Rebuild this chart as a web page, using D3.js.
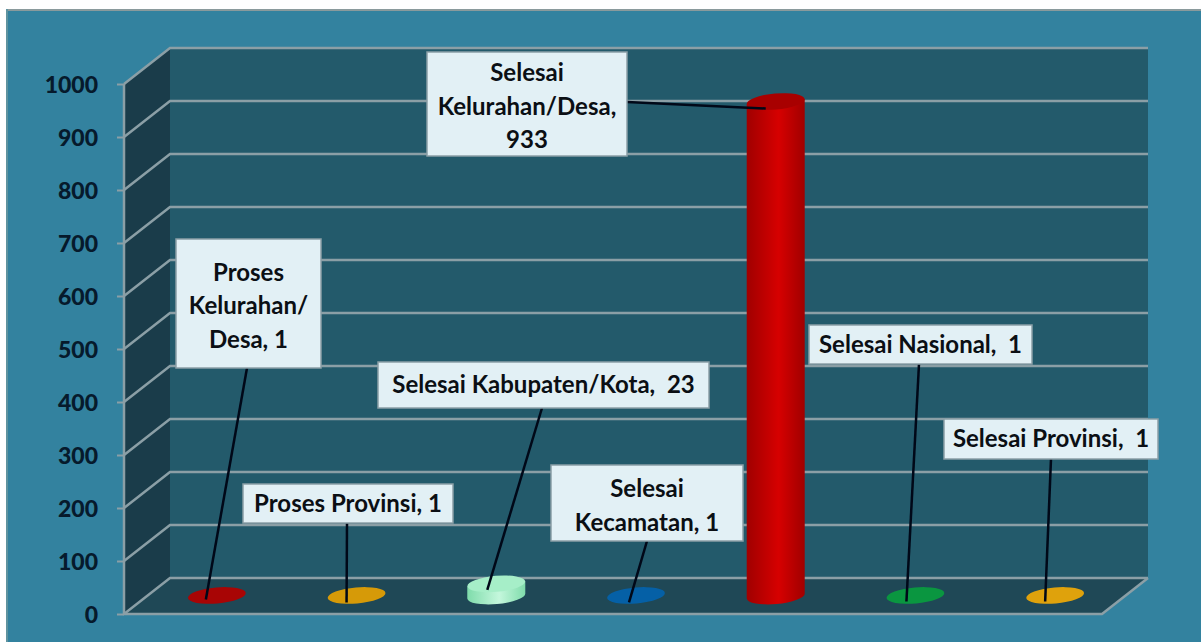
<!DOCTYPE html>
<html><head><meta charset="utf-8">
<script src="https://cdn.jsdelivr.net/npm/d3@7"></script>
<style>html,body{margin:0;padding:0;background:#fff}svg{display:block}text{font-family:Lato,"Open Sans",sans-serif;font-weight:700}</style>
</head><body><svg id="c" width="1201" height="642"></svg>
<script>
const categories=["Proses Kelurahan/Desa","Proses Provinsi","Selesai Kabupaten/Kota","Selesai Kecamatan","Selesai Kelurahan/Desa","Selesai Nasional","Selesai Provinsi"];
const values=[1,1,23,1,933,1,1];
const yTicks=[0,100,200,300,400,500,600,700,800,900,1000];
const labelLines=[["Proses","Kelurahan/","Desa, 1"],["Proses Provinsi, 1"],["Selesai Kabupaten/Kota,  23"],["Selesai","Kecamatan, 1"],["Selesai","Kelurahan/Desa,","933"],["Selesai Nasional,  1"],["Selesai Provinsi,  1"]];
const colors=[["#8f0000","#b80808"],["#b98500","#dd9e08"],["#7fdcab","#c4f7dc"],["#004f8f","#0868b0"],["#a00000","#d60000"],["#007f33","#0a9c40"],["#c48c00","#e6a50c"]];
const topColors=["#a80505","#d69a08","#a6eec8","#0560a6","#a80000","#0a9640","#dfa20c"];
// label box layout: left, top, right, bottom, leader start x, y, leader end offset from slice centre
const boxes=[[176,239,321,368,247,368,-11,4],[243,484,453,523,347,523,-10,7],[378,362,709,408,542,408,-9,6],[551,465,743,541,647,541,-7,7],[427,52,627,156,627,102,-10,7],[809,325,1032,364,919,364,-9,6],[944,419,1158,459,1051,459,-10,6]];

const W={l:124,r:1102,t:84,b:614,dx:46,dy:-36};
const svg=d3.select("#c");
const x=d3.scaleBand().domain(categories).range([W.l,W.r]);
const y=d3.scaleLinear().domain([0,1000]).range([W.b,W.t]);
const cx=c=>x(c)+x.bandwidth()/2+W.dx/2;
const cy=v=>y(v)+W.dy/2;
const defs=svg.append("defs");

svg.append("rect").attr("x",6).attr("y",9).attr("width",1195).attr("height",633).attr("fill","#33829f");
svg.append("rect").attr("x",6).attr("y",9).attr("width",1195).attr("height",2).attr("fill","#8a9a9c");
svg.append("rect").attr("x",6).attr("y",9).attr("width",2).attr("height",633).attr("fill","#5f939f");

const poly=(p,f)=>svg.append("polygon").attr("points",p.map(d=>d.join(",")).join(" ")).attr("fill",f);
poly([[W.l+W.dx,y(1000)+W.dy],[W.r+W.dx,y(1000)+W.dy],[W.r+W.dx,y(0)+W.dy],[W.l+W.dx,y(0)+W.dy]],"#235a6b");
poly([[W.l,y(1000)],[W.l+W.dx,y(1000)+W.dy],[W.l+W.dx,y(0)+W.dy],[W.l,y(0)]],"#1a3c4a");
poly([[W.l,y(0)],[W.l+W.dx,y(0)+W.dy],[W.r+W.dx,y(0)+W.dy],[W.r,y(0)]],"#1f4856");

const grid="#8b9fa6";
const g=svg.append("g").attr("fill","none").attr("stroke",grid).attr("stroke-width",2.5);
yTicks.forEach(t=>{
 g.append("path").attr("d",`M${W.l},${y(t)}L${W.l+W.dx},${y(t)+W.dy}L${W.r+W.dx},${y(t)+W.dy}`);
});
g.append("path").attr("d",`M${W.l},${y(1000)}V${y(0)}H${W.r}L${W.r+W.dx},${y(0)+W.dy}`);

const axis=d3.axisLeft(y).tickValues(yTicks).tickSize(7).tickPadding(18).tickFormat(d3.format("d"));
const ag=svg.append("g").attr("transform",`translate(${W.l},0)`).call(axis);
ag.select(".domain").remove();
ag.selectAll("line").attr("stroke",grid).attr("stroke-width",2);
ag.selectAll("text").attr("font-size",23).attr("fill","#061a2c").attr("x",-26).attr("y",1).style("font-weight",900);

const RX=29,RY=8,TILT=-5;
categories.forEach((c,i)=>{
 const v=values[i],X=cx(c),b=cy(0),top=cy(v);
 const gid="g"+i;
 const lg=defs.append("linearGradient").attr("id",gid);
 lg.append("stop").attr("offset","0").attr("stop-color",colors[i][0]);
 lg.append("stop").attr("offset","0.55").attr("stop-color",colors[i][1]);
 lg.append("stop").attr("offset","1").attr("stop-color",colors[i][0]);
 if(y(0)-y(v)>3){
  const tiltY=RX*Math.sin(TILT*Math.PI/180);
  svg.append("path").attr("fill",`url(#${gid})`)
   .attr("d",`M${X-RX},${top-tiltY}L${X-RX},${b-tiltY}A${RX},${RY} ${TILT} 0 0 ${X+RX},${b+tiltY}L${X+RX},${top+tiltY}Z`);
 }
 svg.append("ellipse").attr("cx",X).attr("cy",top).attr("rx",RX).attr("ry",RY)
  .attr("transform",`rotate(${TILT} ${X} ${top})`)
  .attr("fill",topColors[i]);
});

categories.forEach((c,i)=>{
 const B=boxes[i],v=values[i];
 svg.append("line").attr("x1",B[4]).attr("y1",B[5]).attr("x2",cx(c)+B[6]).attr("y2",cy(v)+B[7])
  .attr("stroke","#000818").attr("stroke-width",2.5);
 svg.append("rect").attr("x",B[0]).attr("y",B[1]).attr("width",B[2]-B[0]).attr("height",B[3]-B[1])
  .attr("fill","#e2f0f5").attr("stroke","#8b9fa6").attr("stroke-width",1.5);
 const L=labelLines[i],lh=33.5,mid=(B[1]+B[3])/2+(L.length>1?2.5:0);
 L.forEach((s,k)=>{
  svg.append("text").attr("x",(B[0]+B[2])/2).attr("y",mid+(k-(L.length-1)/2)*lh)
   .attr("dy","0.35em").attr("text-anchor","middle").attr("font-size",24).attr("fill","#0b0f14").style("white-space","pre").text(s);
 });
});
</script></body></html>
